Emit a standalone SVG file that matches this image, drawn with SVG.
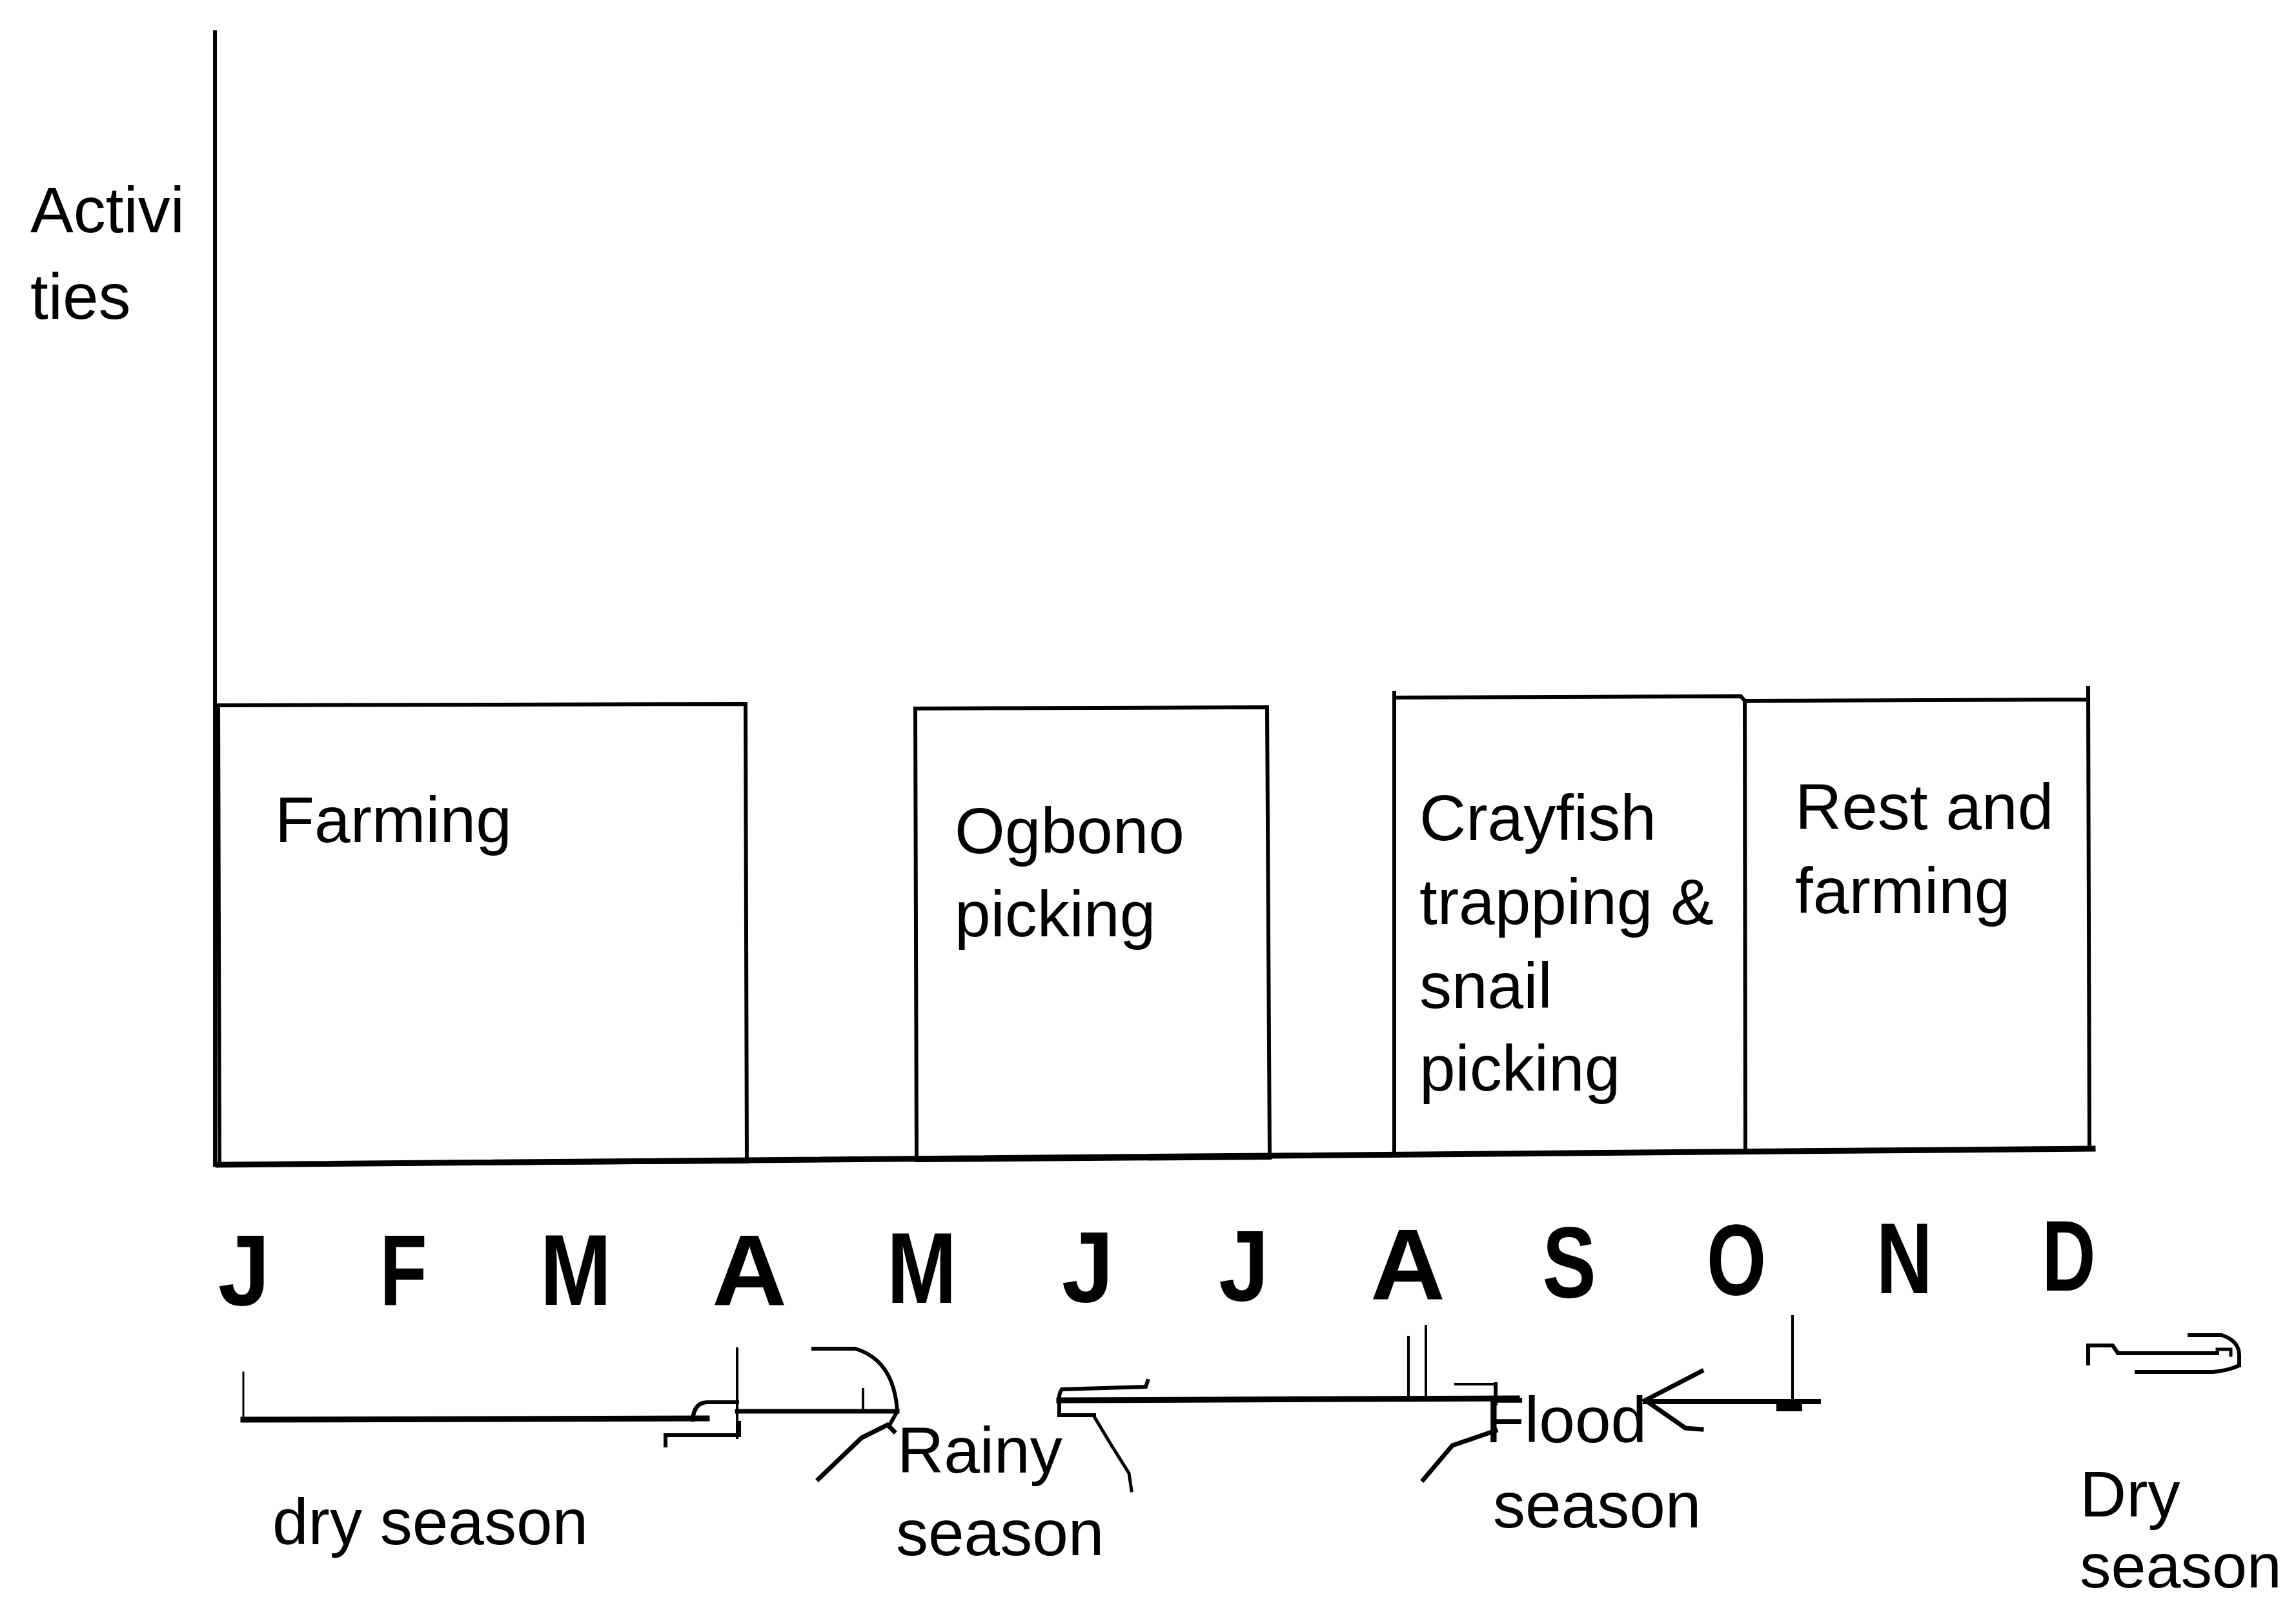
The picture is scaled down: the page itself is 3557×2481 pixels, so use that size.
<svg xmlns="http://www.w3.org/2000/svg" width="3557" height="2481" viewBox="0 0 3557 2481">
  <style>
    .bg { fill: #ffffff; }
    .ln { fill: none; stroke: #000000; stroke-linecap: square; stroke-linejoin: miter; }
    .box { fill: none; stroke: #000000; stroke-width: 6; }
    .txt { font-family: "Liberation Sans", Arial, sans-serif; font-size: 100px; fill: #000000; }
    .mon { font-family: "Liberation Sans", Arial, sans-serif; font-size: 156px; font-weight: bold; fill: #000000; text-anchor: middle; }
  </style>

  <rect class="bg" x="0" y="0" width="3557" height="2481"/>

  <!-- axes -->
  <g id="axes">
    <line class="ln" x1="333" y1="50" x2="333" y2="1805" style="stroke-width:6"/>
    <line class="ln" x1="338" y1="1805" x2="3242" y2="1780" style="stroke-width:9"/>
    <text class="txt" x="47" y="360">Activi</text>
    <text class="txt" x="47" y="494">ties</text>
  </g>

  <!-- activity boxes -->
  <g id="node-farming">
    <path class="box" d="M338,1093 L1155,1091 L1157,1800 L340,1805 Z"/>
    <text class="txt" x="426" y="1305">Farming</text>
  </g>
  <g id="node-ogbono">
    <path class="box" d="M1418,1098 L1963,1096 L1967,1794 L1420,1798 Z"/>
    <text class="txt" x="1479" y="1322">Ogbono</text>
    <text class="txt" x="1479" y="1451">picking</text>
  </g>
  <g id="node-crayfish">
    <path class="box" d="M2160,1071 L2160,1790 M2160,1081 L2697,1079 L2703,1086 L2704,1784"/>
    <text class="txt" x="2199" y="1302">Crayfish</text>
    <text class="txt" x="2199" y="1432">trapping &amp;</text>
    <text class="txt" x="2199" y="1562">snail</text>
    <text class="txt" x="2199" y="1690">picking</text>
  </g>
  <g id="node-rest">
    <path class="box" d="M2703,1086 L3235,1084 M3235,1063 L3237,1780"/>
    <text class="txt" x="2781" y="1285">Rest and</text>
    <text class="txt" x="2781" y="1415">farming</text>
  </g>

  <!-- month labels -->
  <g id="months">
    <text class="mon" transform="translate(378,2022) scale(0.93,1)">J</text>
    <text class="mon" transform="translate(625,2022) scale(0.77,1)">F</text>
    <text class="mon" transform="translate(892,2022) scale(0.85,1)">M</text>
    <text class="mon" transform="translate(1161,2022) scale(1.03,1)">A</text>
    <text class="mon" transform="translate(1428,2019) scale(0.83,1)">M</text>
    <text class="mon" transform="translate(1685,2017) scale(0.93,1)">J</text>
    <text class="mon" transform="translate(1927,2015) scale(0.9,1)">J</text>
    <text class="mon" transform="translate(2181,2013) scale(1.03,1)">A</text>
    <text class="mon" transform="translate(2431,2010) scale(0.8,1)">S</text>
    <text class="mon" transform="translate(2690,2006) scale(0.76,1)">O</text>
    <text class="mon" transform="translate(2950,2004) scale(0.77,1)">N</text>
    <text class="mon" transform="translate(3205,2000) scale(0.74,1)">D</text>
  </g>

  <!-- season labels -->
  <g id="seasons">
    <text class="txt" x="422" y="2393">dry season</text>
    <text class="txt" x="1390" y="2282">Rainy</text>
    <text class="txt" x="1388" y="2410">season</text>
    <text class="txt" x="2301" y="2235">Flood</text>
    <text class="txt" x="2313" y="2367">season</text>
    <text class="txt" x="3222" y="2350">Dry</text>
    <text class="txt" x="3222" y="2460" style="font-size:97px">season</text>
  </g>

  <!-- season arrows -->
  <g id="connectors">
    <!-- dry season -->
    <line class="ln" x1="377" y1="2127" x2="377" y2="2198" style="stroke-width:3"/>
    <path class="ln" d="M377,2200 L1095,2198" style="stroke-width:9"/>
    <path class="ln" d="M1073,2200 Q1075,2173 1096,2173 L1142,2173" style="stroke-width:6"/>
    <path class="ln" d="M1031,2240 L1031,2224 L1145,2224 L1145,2205" style="stroke-width:6"/>
    <line class="ln" x1="1142" y1="2090" x2="1142" y2="2228" style="stroke-width:4"/>
    <path class="ln" d="M1142,2187 L1390,2187" style="stroke-width:7"/>
    <line class="ln" x1="1337" y1="2153" x2="1337" y2="2187" style="stroke-width:4"/>
    <path class="ln" d="M1260,2090 L1325,2090 Q1385,2108 1390,2187 L1380,2205" style="stroke-width:6"/>
    <path class="ln" d="M1268,2292 L1335,2228 L1375,2208 L1385,2218" style="stroke-width:7"/>

    <!-- rainy season -->
    <path class="ln" d="M1778,2140 L1775,2149 L1645,2153 Q1640,2160 1641,2170 L1641,2193 L1695,2193" style="stroke-width:6"/>
    <path class="ln" d="M1641,2170 L2350,2167" style="stroke-width:9"/>
    <path class="ln" d="M1695,2195 L1722,2240 L1749,2283 L1753,2310" style="stroke-width:5"/>
    <line class="ln" x1="2182" y1="2072" x2="2182" y2="2167" style="stroke-width:4"/>
    <line class="ln" x1="2209" y1="2055" x2="2209" y2="2167" style="stroke-width:4"/>

    <!-- flood season -->
    <path class="ln" d="M2255,2145 L2313,2145" style="stroke-width:4"/>
    <line class="ln" x1="2317" y1="2145" x2="2317" y2="2175" style="stroke-width:6"/>
    <path class="ln" d="M2205,2293 L2250,2240 L2317,2217" style="stroke-width:7"/>
    <path class="ln" d="M2636,2125 L2549,2170 L2611,2213 L2636,2215" style="stroke-width:7"/>
    <path class="ln" d="M2549,2172 L2817,2172" style="stroke-width:8"/>
    <line class="ln" x1="2777" y1="2040" x2="2777" y2="2175" style="stroke-width:4"/>
    <rect x="2752" y="2174" width="40" height="13" fill="#000000"/>

    <!-- dry season (December) -->
    <path class="ln" d="M3235,2113 L3235,2085 L3273,2085 L3281,2097 L3435,2097" style="stroke-width:6"/>
    <path class="ln" d="M3392,2069 L3442,2069 Q3469,2078 3469,2100 L3469,2116 Q3452,2124 3428,2126 L3310,2126" style="stroke-width:6"/>
    <path class="ln" d="M3435,2091 L3456,2091 L3456,2100" style="stroke-width:5"/>
  </g>
</svg>
